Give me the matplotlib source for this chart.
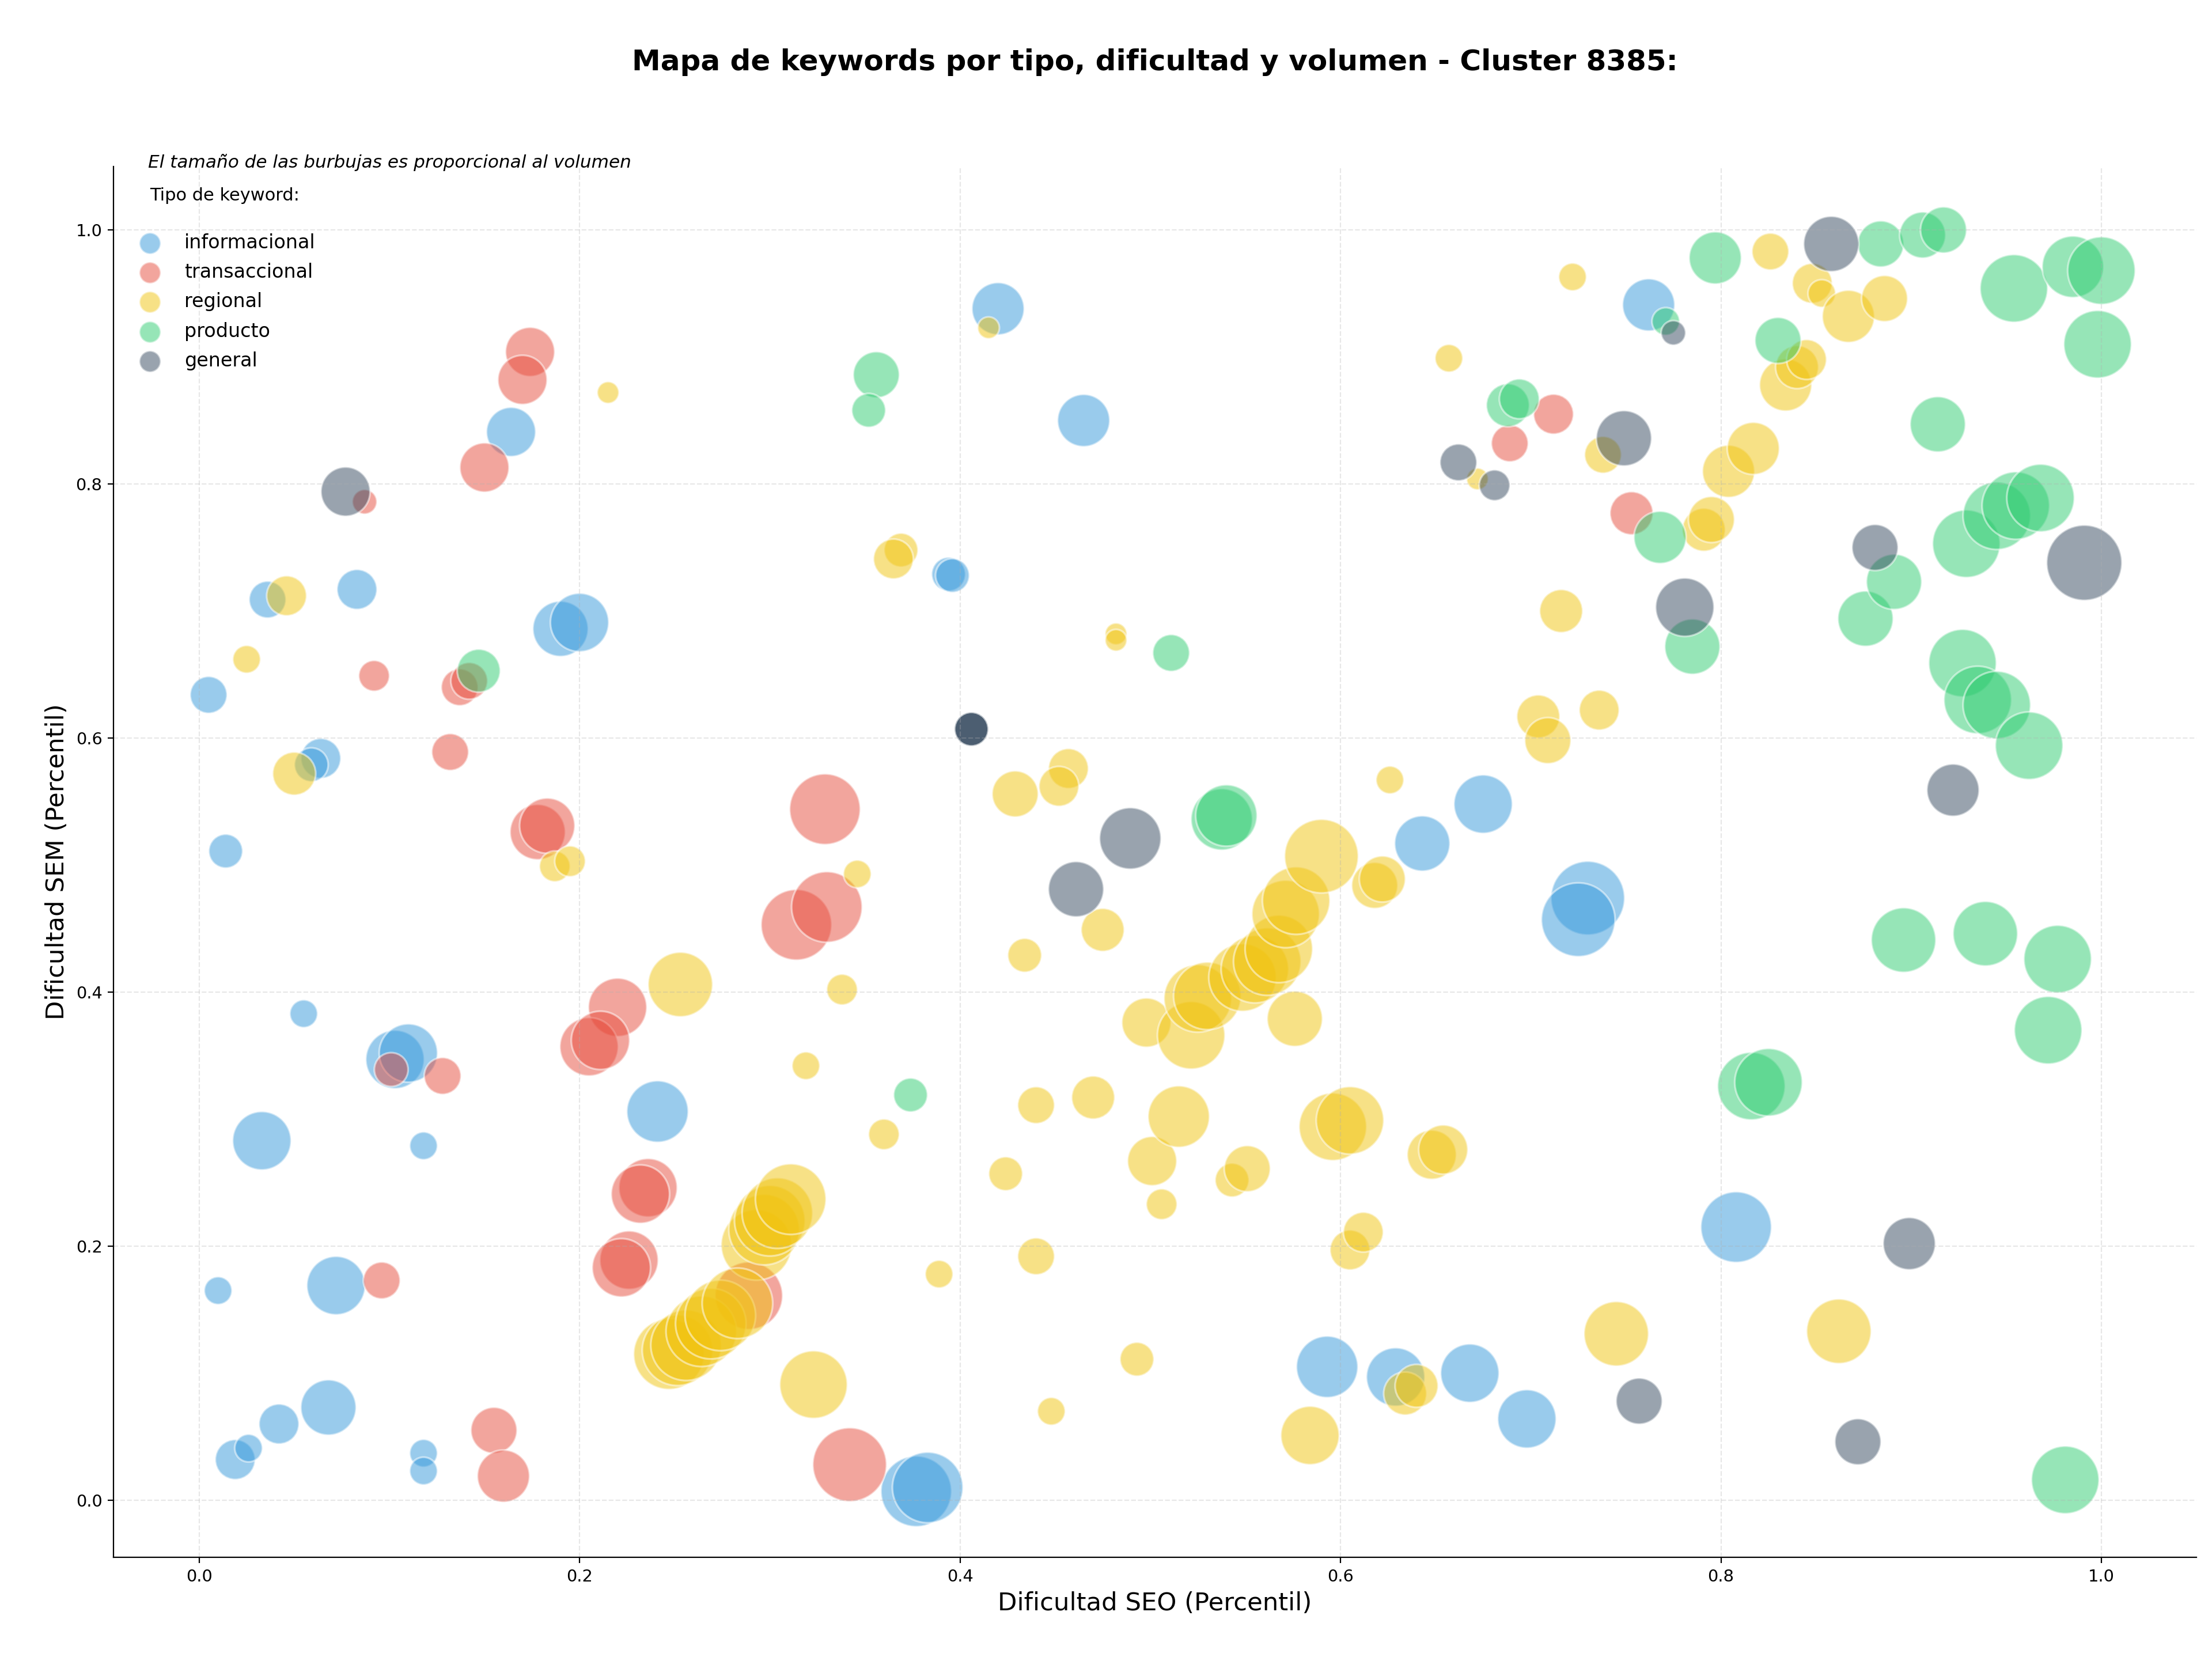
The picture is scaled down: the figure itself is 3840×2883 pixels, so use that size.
import numpy as np
import matplotlib.pyplot as plt

tipos = ["informacional", "transaccional", "regional", "producto", "general"]
colores = ["#3498DB", "#E74C3C", "#F1C40F", "#2ECC71", "#34495E"]

# dificultad SEO (x), dificultad SEM (y) y volumen por tipo de keyword
info_seo = [0.005, 0.014, 0.036, 0.083, 0.164, 0.190, 0.200, 0.064, 0.059, 0.055,
            0.103, 0.110, 0.033, 0.118, 0.241, 0.072, 0.010, 0.068, 0.042, 0.019,
            0.026, 0.118, 0.118, 0.377, 0.383, 0.420, 0.465, 0.394, 0.396, 0.643,
            0.675, 0.730, 0.725, 0.762, 0.808, 0.593, 0.629, 0.668, 0.698]
info_sem = [0.634, 0.511, 0.709, 0.717, 0.841, 0.686, 0.691, 0.584, 0.579, 0.383,
            0.347, 0.352, 0.283, 0.279, 0.306, 0.169, 0.165, 0.073, 0.060, 0.032,
            0.041, 0.037, 0.023, 0.007, 0.010, 0.938, 0.850, 0.729, 0.728, 0.517,
            0.548, 0.474, 0.457, 0.941, 0.215, 0.105, 0.097, 0.100, 0.064]
info_vol = [1150, 970, 1150, 1350, 2050, 2590, 2890, 1350, 970, 650,
            2890, 2890, 2890, 650, 3200, 2890, 650, 2590, 1350, 1350,
            650, 650, 650, 4230, 4230, 2310, 2310, 970, 970, 2590,
            2890, 4610, 4610, 2310, 4230, 3200, 2890, 2890, 2890]

trans_seo = [0.174, 0.170, 0.150, 0.087, 0.092, 0.137, 0.142, 0.132, 0.178, 0.183,
             0.329, 0.314, 0.330, 0.220, 0.205, 0.211, 0.101, 0.128, 0.236, 0.232,
             0.226, 0.222, 0.096, 0.155, 0.160, 0.342, 0.289, 0.753, 0.689, 0.712]
trans_sem = [0.904, 0.882, 0.813, 0.786, 0.649, 0.640, 0.645, 0.589, 0.526, 0.531,
             0.544, 0.453, 0.467, 0.388, 0.357, 0.362, 0.339, 0.334, 0.246, 0.241,
             0.189, 0.183, 0.173, 0.055, 0.019, 0.028, 0.161, 0.777, 0.832, 0.855]
trans_vol = [2050, 2050, 2050, 510, 800, 1150, 1150, 1150, 2590, 2590,
             4230, 4230, 4230, 2890, 2890, 2890, 970, 1150, 2890, 2890,
             2890, 2890, 1150, 1800, 2310, 4610, 3870, 1570, 1150, 1350]

reg_seo = [0.215, 0.025, 0.046, 0.050, 0.187, 0.195, 0.346, 0.338, 0.319, 0.253,
           0.360, 0.389, 0.323, 0.293, 0.297, 0.300, 0.304, 0.311, 0.247, 0.2515,
           0.256, 0.264, 0.269, 0.274, 0.283, 0.429, 0.434, 0.457, 0.452, 0.440,
           0.470, 0.424, 0.440, 0.448, 0.493, 0.506, 0.501, 0.515, 0.498, 0.475,
           0.482, 0.482, 0.369, 0.365, 0.415, 0.543, 0.551, 0.5215, 0.525, 0.530,
           0.5485, 0.555, 0.5615, 0.5676, 0.5712, 0.5767, 0.590, 0.576, 0.618, 0.622,
           0.626, 0.596, 0.605, 0.605, 0.612, 0.584, 0.634, 0.640, 0.648, 0.654,
           0.745, 0.862, 0.657, 0.672, 0.722, 0.738, 0.716, 0.704, 0.709, 0.736,
           0.804, 0.817, 0.791, 0.795, 0.826, 0.848, 0.853, 0.834, 0.840, 0.845,
           0.867, 0.886]
reg_sem = [0.872, 0.662, 0.712, 0.572, 0.499, 0.503, 0.493, 0.402, 0.342, 0.406,
           0.288, 0.178, 0.091, 0.201, 0.213, 0.220, 0.226, 0.237, 0.115, 0.118,
           0.122, 0.133, 0.139, 0.1455, 0.155, 0.556, 0.429, 0.576, 0.562, 0.311,
           0.317, 0.257, 0.192, 0.070, 0.111, 0.233, 0.267, 0.302, 0.376, 0.449,
           0.682, 0.677, 0.748, 0.741, 0.923, 0.252, 0.261, 0.366, 0.395, 0.397,
           0.4115, 0.418, 0.424, 0.434, 0.4615, 0.472, 0.507, 0.379, 0.484, 0.489,
           0.567, 0.294, 0.299, 0.197, 0.211, 0.051, 0.084, 0.090, 0.272, 0.276,
           0.131, 0.133, 0.899, 0.804, 0.963, 0.823, 0.700, 0.617, 0.598, 0.622,
           0.810, 0.828, 0.764, 0.772, 0.983, 0.958, 0.950, 0.878, 0.892, 0.898,
           0.932, 0.946]
reg_vol = [400, 650, 1350, 1570, 800, 800, 650, 800, 650, 3530,
           800, 650, 3870, 4230, 4230, 4230, 4230, 4230, 4230, 4230,
           4230, 4230, 4230, 4230, 4230, 1800, 970, 1350, 1350, 1150,
           1570, 970, 1150, 650, 970, 800, 2050, 3200, 2050, 1570,
           400, 400, 970, 1350, 400, 970, 1800, 3870, 3870, 3870,
           3870, 3870, 3870, 3870, 3870, 3870, 4610, 2590, 1800, 1800,
           650, 3870, 3870, 1350, 1350, 2890, 1570, 1570, 2050, 2050,
           3530, 3530, 650, 400, 650, 1150, 1570, 1570, 1800, 1350,
           2310, 2310, 1570, 1800, 1150, 1350, 650, 2310, 1570, 1350,
           2310, 1800]

prod_seo = [0.147, 0.356, 0.352, 0.374, 0.511, 0.5376, 0.540, 0.688, 0.694, 0.771,
            0.797, 0.830, 0.768, 0.785, 0.876, 0.891, 0.914, 0.884, 0.906, 0.917,
            0.954, 0.985, 1.000, 0.998, 0.929, 0.945, 0.955, 0.968, 0.927, 0.935,
            0.945, 0.962, 0.896, 0.939, 0.977, 0.972, 0.816, 0.825, 0.981]
prod_sem = [0.653, 0.886, 0.858, 0.319, 0.667, 0.536, 0.539, 0.862, 0.867, 0.928,
            0.978, 0.913, 0.758, 0.672, 0.694, 0.723, 0.847, 0.989, 0.996, 1.000,
            0.954, 0.971, 0.968, 0.910, 0.753, 0.775, 0.783, 0.789, 0.659, 0.630,
            0.626, 0.594, 0.441, 0.446, 0.426, 0.370, 0.326, 0.329, 0.016]
prod_vol = [1570, 1800, 970, 970, 1150, 3200, 3200, 1570, 1350, 650,
            2310, 1800, 2310, 2590, 2590, 2590, 2590, 1800, 1800, 1800,
            3870, 3200, 3870, 3870, 3870, 3870, 3870, 3870, 3870, 3870,
            3870, 3870, 3530, 3530, 3870, 3870, 3870, 3870, 3870]

gen_seo = [0.077, 0.406, 0.406, 0.406, 0.461, 0.4895, 0.749, 0.775, 0.662, 0.681,
           0.858, 0.781, 0.881, 0.991, 0.922, 0.899, 0.757, 0.872]
gen_sem = [0.794, 0.607, 0.607, 0.607, 0.481, 0.521, 0.836, 0.919, 0.817, 0.799,
           0.989, 0.703, 0.750, 0.738, 0.559, 0.202, 0.078, 0.046]
gen_vol = [2050, 970, 970, 970, 2590, 3200, 2590, 510, 1150, 800,
           2590, 2890, 1800, 4800, 2310, 2310, 1800, 1800]

datos = [
    (info_seo, info_sem, info_vol),
    (trans_seo, trans_sem, trans_vol),
    (reg_seo, reg_sem, reg_vol),
    (prod_seo, prod_sem, prod_vol),
    (gen_seo, gen_sem, gen_vol),
]

fig, ax = plt.subplots(figsize=(19.2, 14.415), dpi=200)
fig.subplots_adjust(left=0.0513, right=0.993, bottom=0.0624, top=0.8998)

for tipo, color, (x, y, vol) in zip(tipos, colores, datos):
    ax.scatter(x, y, s=np.array(vol) * 0.46, c=color, alpha=0.5,
               edgecolors="white", linewidths=1.2, label=tipo)

ax.set_xlim(-0.045, 1.05)
ax.set_ylim(-0.045, 1.05)
ax.set_xlabel("Dificultad SEO (Percentil)", fontsize=15.6)
ax.set_ylabel("Dificultad SEM (Percentil)", fontsize=15.6)
ax.set_title("Mapa de keywords por tipo, dificultad y volumen - Cluster 8385:",
             fontsize=18, fontweight="bold", pad=60)
ax.tick_params(labelsize=10.4)
ax.grid(True, linestyle="--", alpha=0.3)
ax.spines["top"].set_visible(False)
ax.spines["right"].set_visible(False)

ax.text(0.0166, 1.003, "El tamaño de las burbujas es proporcional al volumen",
        transform=ax.transAxes, fontsize=11.2, style="italic", va="center")
ax.text(0.0174, 0.979, "Tipo de keyword:", transform=ax.transAxes,
        fontsize=11, va="center")

leg = ax.legend(loc="upper left", bbox_to_anchor=(0.0, 0.9645), frameon=False,
                fontsize=12, labelspacing=0.55)
for h in leg.legend_handles:
    h.set_sizes([177])

fig.savefig("out.png", dpi=200)
